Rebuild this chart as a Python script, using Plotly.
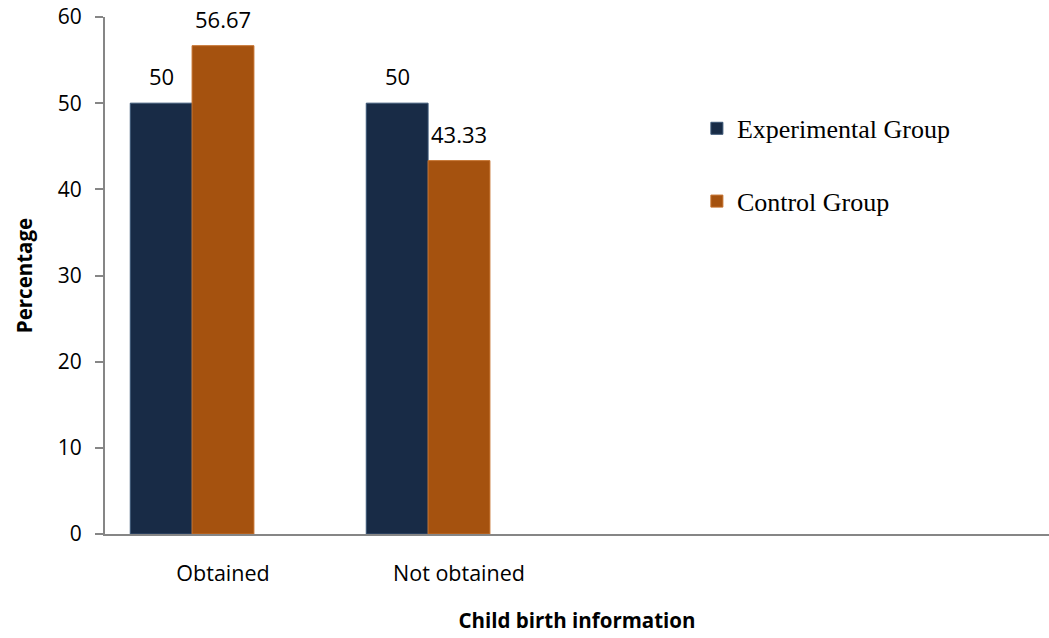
import plotly.graph_objects as go

# Child birth information by study group (percentages)
categories = ["Obtained", "Not obtained"]
experimental = [50, 50]
control = [56.67, 43.33]
series_names = ["Experimental Group", "Control Group"]

NAVY = "#182B46"
ORANGE = "#A5520F"
AXIS_GREY = "#868686"
BAR_W = 0.262
LABEL_FONT = dict(family="Open Sans", size=22, color="#000000")

fig = go.Figure()
series = [
    (experimental, series_names[0], NAVY, "#3A5575", -1.5 * BAR_W, "a"),
    (control, series_names[1], ORANGE, "#C46F2A", -0.5 * BAR_W, "b"),
]
for values, name, color, edge, offset, group in series:
    fig.add_trace(go.Bar(
        x=categories, y=values, name=name,
        width=BAR_W, offset=offset,
        marker=dict(color=color, line=dict(color=edge, width=1)),
        legendgroup=group,
    ))
    # value labels above each bar, centred on the bar
    for i, v in enumerate(values):
        fig.add_annotation(
            x=i + offset + BAR_W / 2, y=v, xref="x", yref="y",
            text=f"{v:g}", showarrow=False,
            xanchor="center", yanchor="bottom", yshift=10,
            font=LABEL_FONT,
        )

fig.update_layout(
    width=1049, height=638,
    margin=dict(l=105, r=0, t=17, b=104),
    plot_bgcolor="white", paper_bgcolor="white",
    barmode="overlay",
    font=dict(family="Open Sans", size=20, color="#000000"),
    showlegend=True,
    legend=dict(
        x=0.627, y=0.83, xanchor="left", yanchor="top",
        font=dict(family="Liberation Serif, Times New Roman, serif", size=26, color="#000000"),
        tracegroupgap=36, bgcolor="rgba(0,0,0,0)",
    ),
    xaxis=dict(
        type="category", categoryorder="array", categoryarray=categories,
        range=[-0.5, 3.5],
        showline=True, linecolor=AXIS_GREY, linewidth=2,
        ticks="", showgrid=False, zeroline=False,
        ticklabelstandoff=19,
        tickfont=dict(family="Open Sans", size=21.5),
        title=dict(text="<b>Child birth information</b>", standoff=28,
                   font=dict(family="Open Sans", size=20.5)),
    ),
    yaxis=dict(
        range=[0, 60], dtick=10,
        showline=True, linecolor=AXIS_GREY, linewidth=2,
        ticks="outside", ticklen=8, tickcolor=AXIS_GREY, tickwidth=2,
        showgrid=False, zeroline=False,
        ticklabelstandoff=9,
        tickfont=dict(family="Open Sans", size=21),
        title=dict(text="<b>Percentage</b>", standoff=20,
                   font=dict(family="Open Sans", size=20.5)),
    ),
)

fig.write_html("out.html")
